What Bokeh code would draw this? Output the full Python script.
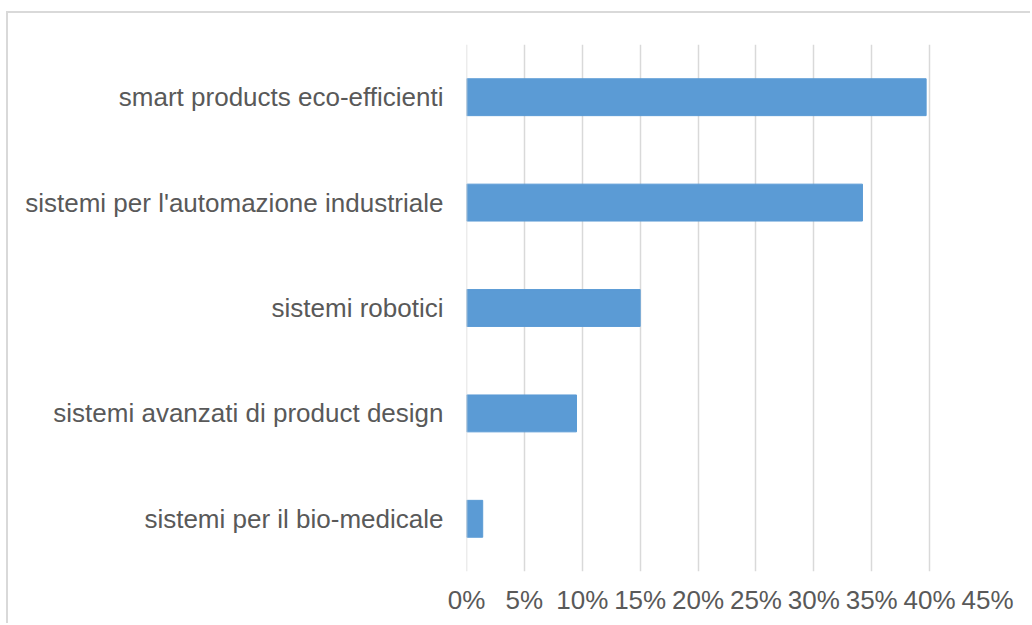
from bokeh.plotting import figure
from bokeh.models import Range1d, FactorRange, FixedTicker, ColumnDataSource, Span
from bokeh.embed import file_html
from bokeh.resources import INLINE

categories = [
    "smart products eco-efficienti",
    "sistemi per l'automazione industriale",
    "sistemi robotici",
    "sistemi avanzati di product design",
    "sistemi per il bio-medicale",
]
values = [0.397, 0.342, 0.150, 0.095, 0.014]
tick_values = [0.0, 0.05, 0.10, 0.15, 0.20, 0.25, 0.30, 0.35, 0.40, 0.45]
tick_labels = ["0%", "5%", "10%", "15%", "20%", "25%", "30%", "35%", "40%", "45%"]

TEXT = "#595959"
GRID = "#D9D9D9"
BAR = "#5B9BD5"
FONT = "Liberation Sans"

src = ColumnDataSource(dict(cat=categories, val=values))

p = figure(
    width=1024, height=612,
    x_range=Range1d(0, 0.45),
    y_range=FactorRange(factors=list(reversed(categories))),
    output_backend="svg", toolbar_location=None,
    min_border_left=458, min_border_right=45,
    min_border_top=31, min_border_bottom=54,
)
p.margin = (11, 0, 0, 6)
p.styles = {"border-left": "2px solid #D9D9D9", "border-top": "2px solid #D9D9D9"}
p.outline_line_color = None
p.background_fill_color = "white"
p.border_fill_color = "white"

p.xgrid.grid_line_color = GRID
p.xgrid.grid_line_width = 1.5
p.add_layout(Span(location=tick_values[0], dimension="height",
                  line_color=GRID, line_width=1.5))

p.hbar(y="cat", right="val", left=0, height=0.35, source=src,
       fill_color=BAR, line_color=BAR, line_width=1)

p.ygrid.grid_line_color = None
p.xaxis.ticker = FixedTicker(ticks=tick_values)
p.xaxis.major_label_overrides = {t: l for t, l in zip(tick_values, tick_labels)}

for ax in (p.xaxis[0], p.yaxis[0]):
    ax.axis_line_color = None
    ax.major_tick_line_color = None
    ax.minor_tick_line_color = None
    ax.major_label_text_color = TEXT
    ax.major_label_text_font = FONT
    ax.major_label_text_font_size = "26px"

p.xaxis.major_label_standoff = 7
p.yaxis.major_label_standoff = 17

open("out.html", "w").write(file_html(p, INLINE))
